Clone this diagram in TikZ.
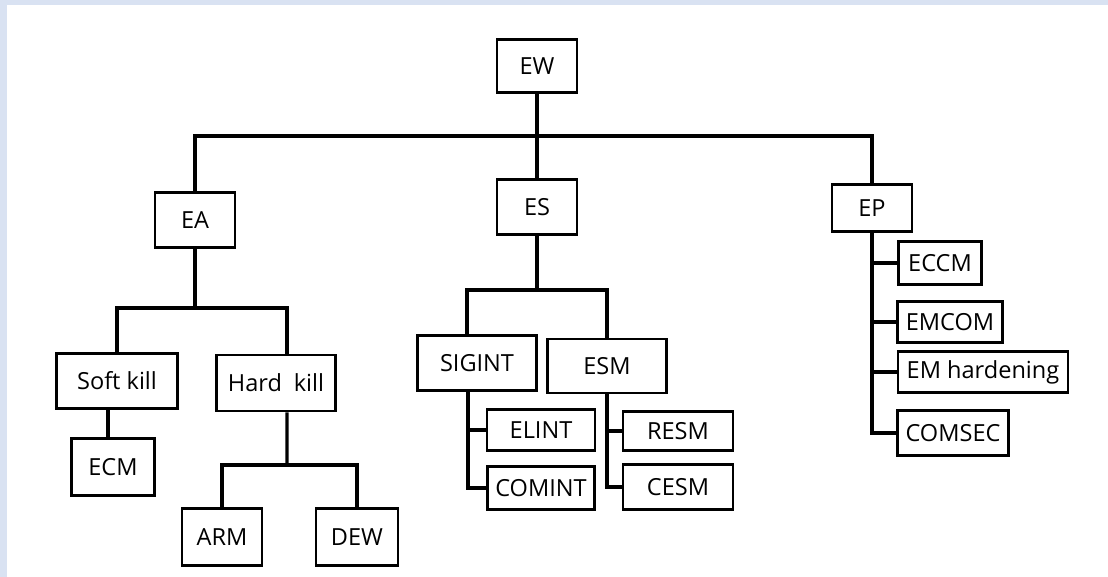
\documentclass[tikz,border=0pt]{standalone}
\usepackage{fontspec}
\setmainfont{Open Sans}
\usepackage{tikz}
\definecolor{edgeblue}{HTML}{D9E2F2}

\begin{document}
\begin{tikzpicture}[x=0.02cm, y=-0.02cm,
	box/.style={draw=black, line width=1.5pt, inner sep=1pt, font=\fontsize{13.4}{16}\selectfont},
	link/.style={line width=1.8pt},
	heavy/.style={line width=2.6pt}]
	
	\fill[edgeblue] (0,0) rectangle (1108,577);
	\fill[white] (7,5) rectangle (1108,577);
	
	\node[box, minimum width=1.6cm,  minimum height=1.06cm] (ew) at (537, 66)  {EW};
	\node[box, minimum width=1.6cm,  minimum height=1.1cm]  (ea) at (195, 220) {EA};
	\node[box, minimum width=1.6cm,  minimum height=1.1cm]  (es) at (537, 207) {ES};
	\node[box, minimum width=1.6cm,  minimum height=0.94cm] (ep) at (872, 208) {EP};
	
	\node[box, minimum width=2.42cm, minimum height=1.1cm]  (soft) at (117, 381) {Soft kill};
	\node[box, minimum width=2.38cm, minimum height=1.12cm] (hard) at (276, 383) {Hard\enspace kill};
	\node[box, minimum width=1.66cm, minimum height=1.14cm] (ecm)  at (113, 467) {ECM};
	\node[box, minimum width=1.6cm,  minimum height=1.14cm] (arm)  at (222, 537) {ARM};
	\node[box, minimum width=1.64cm, minimum height=1.14cm] (dew)  at (357, 537) {DEW};
	
	\node[box, minimum width=2.38cm, minimum height=1.1cm]  (sigint) at (477, 363) {SIGINT};
	\node[box, minimum width=2.38cm, minimum height=1.08cm] (esm)    at (607, 366) {ESM};
	\node[box, minimum width=2.16cm, minimum height=0.82cm] (elint)  at (541, 430) {ELINT};
	\node[box, minimum width=2.14cm, minimum height=0.86cm] (comint) at (541, 488) {COMINT};
	\node[box, minimum width=2.2cm,  minimum height=0.78cm] (resm)   at (678, 431) {RESM};
	\node[box, minimum width=2.2cm,  minimum height=0.9cm]  (cesm)   at (678, 487) {CESM};
	
	\node[box, minimum width=1.66cm, minimum height=0.86cm] (eccm)  at (940, 263) {ECCM};
	\node[box, minimum width=2.1cm,  minimum height=0.82cm] (emcom) at (950, 322) {EMCOM};
	\node[box, minimum width=3.4cm,  minimum height=0.82cm] (emh)   at (983, 372) {EM hardening};
	\node[box, minimum width=2.22cm, minimum height=0.9cm]  (comsec) at (953, 433) {COMSEC};
	
	\coordinate (top)   at (537, 136);
	\coordinate (eabar) at (195, 308);
	\coordinate (hkbar) at (287, 465);
	\coordinate (esbar) at (537, 290);
	
	\draw[heavy] (ew) -- (es);
	\draw[link] (ea.north) |- (top) -| (ep.north);
	
	\draw[heavy] (ea) -- (eabar);
	\draw[link] (soft.north) |- (eabar) -| ([xshift=0.22cm]hard.north);
	\draw[heavy] ([xshift=-0.1cm]ecm.north) -- ([xshift=-0.1cm]ecm.north |- soft.south);
	\draw[link] ([xshift=0.22cm]hard.south) -- (hkbar);
	\draw[heavy] (arm.north) |- (hkbar) -| (dew.north);
	
	\draw[heavy] (es) -- (esbar);
	\draw[link] ([xshift=-0.2cm]sigint.north) |- (esbar) -| (esm.north);
	\draw[link] ([xshift=-0.18cm]sigint.south) |- (elint.west);
	\draw[heavy] ([xshift=-0.18cm]sigint.south) |- (comint.west);
	\draw[link] (esm.south) |- (resm.west);
	\draw[heavy] (esm.south) |- (cesm.west);
	
	\draw[heavy] (ep.south) |- (comsec.west);
	\draw[heavy] (ep.south |- eccm.west) -- (eccm.west);
	\draw[link] (ep.south |- emcom.west) -- (emcom.west);
	\draw[heavy] (ep.south |- emh.west) -- (emh.west);
	
\end{tikzpicture}
\end{document}
